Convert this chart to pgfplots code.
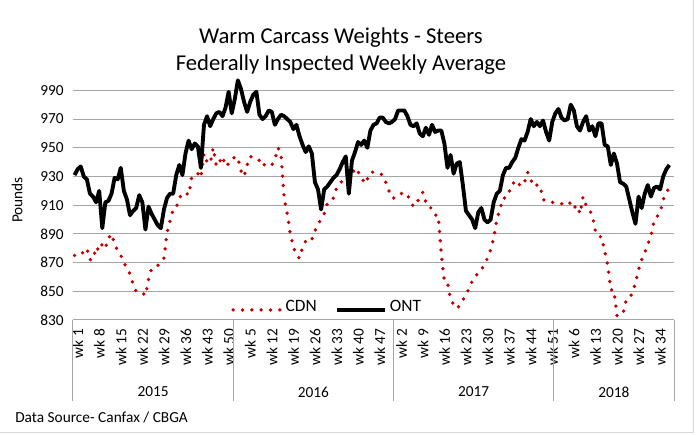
\documentclass[border=0pt]{standalone}
\usepackage{fontspec}
\setmainfont{Carlito}
\usepackage{pgfplots}
\usepackage{pgfplotstable}
\pgfplotsset{compat=1.18}
\definecolor{cdnred}{HTML}{C00000}
\definecolor{gridgray}{HTML}{A6A6A6}
\definecolor{bordergray}{HTML}{D9D9D9}

\pgfplotstableread{
k cdn ont
1 875 931
2 875 935
3 875 937
4 878 930
5 880 928
6 872 918
7 872 916
8 881 912
9 878 920
10 883 894
11 880 912
12 887 913
13 890 918
14 883 929
15 878 928
16 875 936
17 870 920
18 866 914
19 862 903
20 855 906
21 850 908
22 850 917
23 849 912
24 847 893
25 858 909
26 866 904
27 867 900
28 868 896
29 870 894
30 873 907
31 891 915
32 899 918
33 907 918
34 908 931
35 915 938
36 918 931
37 919 946
38 917 955
39 929 949
40 932 953
41 932 951
42 929 936
43 946 966
44 940 972
45 939 965
46 950 970
47 937 974
48 940 975
49 944 972
50 937 978
51 939 989
52 940 974
53 944 984
54 943 997
55 934 991
56 930 982
57 938 975
58 944 982
59 943 987
60 943 989
61 941 973
62 937 970
63 939 972
64 939 976
65 938 975
66 942 966
67 950 970
68 946 973
69 915 972
70 904 970
71 890 968
72 881 963
73 875 966
74 873 958
75 881 952
76 885 947
77 887 951
78 886 946
79 892 926
80 897 921
81 900 907
82 904 921
83 911 923
84 912 926
85 915 929
86 922 931
87 924 935
88 928 940
89 931 944
90 931 918
91 931 941
92 936 947
93 933 954
94 931 952
95 925 955
96 928 950
97 933 962
98 933 966
99 933 967
100 932 971
101 931 971
102 926 968
103 920 967
104 915 968
105 915 970
106 916 976
107 918 976
108 919 976
109 917 972
110 913 966
111 909 965
112 911 967
113 916 960
114 919 958
115 912 964
116 911 959
117 906 966
118 903 961
119 903 962
120 876 962
121 857 953
122 856 936
123 844 945
124 841 932
125 838 939
126 840 940
127 844 924
128 847 906
129 852 903
130 857 900
131 861 894
132 862 905
133 865 908
134 869 900
135 873 898
136 879 900
137 887 912
138 900 918
139 907 920
140 915 931
141 915 936
142 919 936
143 925 940
144 926 943
145 923 950
146 927 956
147 926 955
148 933 961
149 928 970
150 923 965
151 924 968
152 924 965
153 914 969
154 913 961
155 913 955
156 912 968
157 912 974
158 911 977
159 911 971
160 911 969
161 910 970
162 912 980
163 908 976
164 910 965
165 904 962
166 916 968
167 910 972
168 907 962
169 903 965
170 892 958
171 888 967
172 888 967
173 878 952
174 868 951
175 851 938
176 851 946
177 833 939
178 833 926
179 835 925
180 844 923
181 845 914
182 849 905
183 856 897
184 865 916
185 872 908
186 877 918
187 883 924
188 888 916
189 899 922
190 902 923
191 905 921
192 914 930
193 918 935
194 923 938
}\wdata

\begin{document}
\begin{tikzpicture}
\begin{axis}[
  scale only axis, width=450.75pt, height=183pt,
  xmin=0.5, xmax=195.5, ymin=830, ymax=1000,
  ytick={830,850,...,990},
  xtick={1,8,...,190},
  xticklabels={wk 1,wk 8,wk 15,wk 22,wk 29,wk 36,wk 43,wk 50,wk 5,wk 12,wk 19,wk 26,wk 33,wk 40,wk 47,wk 2,wk 9,wk 16,wk 23,wk 30,wk 37,wk 44,wk 51,wk 6,wk 13,wk 20,wk 27,wk 34},
  axis line style={draw=none},
  major tick length=0pt,
  ymajorgrids, grid style={gridgray, line width=0.75pt},
  /pgf/number format/assume math mode=true,
  yticklabel style={font=\fontsize{11.5}{13}\selectfont, inner sep=0pt, xshift=-6.75pt},
  xticklabel style={font=\fontsize{11.5}{13}\selectfont, rotate=90, anchor=east, inner sep=0pt, xshift=-6.5pt, yshift=-2.5pt},
  clip=false,
  legend columns=2,
  legend style={at={(0.4235,0.055)}, anchor=center, draw=none, fill=none, inner sep=0pt,
    font=\fontsize{13}{15}\selectfont,
    nodes={inner sep=2pt},
    /tikz/every even column/.append style={column sep=12pt}},
  legend image code/.code={\draw[#1,/tikz/.cd,yshift=-0.25em] (0pt,0pt) -- (36pt,0pt);},
]
\addplot[cdnred, line width=2.8pt, line cap=round, dash pattern=on 0pt off 7pt] table[x=k, y=cdn] {\wdata};
\addlegendentry{CDN}
\addplot[black, line width=2.9pt, line join=round] table[x=k, y=ont] {\wdata};
\addlegendentry{ONT}

\draw[gridgray, line width=0.75pt] (axis cs:0.5,830) -- ++(0pt,-60.75pt);
\draw[gridgray, line width=0.75pt] (axis cs:52.5,830) -- ++(0pt,-60.75pt);
\draw[gridgray, line width=0.75pt] (axis cs:104.5,830) -- ++(0pt,-60.75pt);
\draw[gridgray, line width=0.75pt] (axis cs:156.5,830) -- ++(0pt,-60.75pt);
\draw[gridgray, line width=0.75pt] (axis cs:195.5,830) -- ++(0pt,-60.75pt);
\node[font=\fontsize{11.5}{13}\selectfont] at ([yshift=-54pt]axis cs:26.5,830) {2015};
\node[font=\fontsize{11.5}{13}\selectfont] at ([yshift=-54pt]axis cs:78.5,830) {2016};
\node[font=\fontsize{11.5}{13}\selectfont] at ([yshift=-54pt]axis cs:130.5,830) {2017};
\node[font=\fontsize{11.5}{13}\selectfont] at ([yshift=-54pt]axis cs:176,830) {2018};
\end{axis}
\node[font=\fontsize{17}{20}\selectfont] at (201pt,211.5pt) {Warm Carcass Weights - Steers};
\node[font=\fontsize{17}{20}\selectfont] at (201pt,191.25pt) {Federally Inspected Weekly Average};
\node[rotate=90, font=\fontsize{11.5}{13}\selectfont] at (-42pt,90pt) {Pounds};
\node[anchor=west, inner sep=0pt, font=\fontsize{11.5}{13}\selectfont] at (-43.5pt,-73pt) {Data Source- Canfax / CBGA};
\draw[bordergray, line width=0.75pt] (465pt,240pt) -- (465pt,-84.75pt) -- (-54.75pt,-84.75pt);
\pgfresetboundingbox
\path[use as bounding box] (-54.75pt,-86.25pt) rectangle (470.25pt,240pt);
\end{tikzpicture}
\end{document}
